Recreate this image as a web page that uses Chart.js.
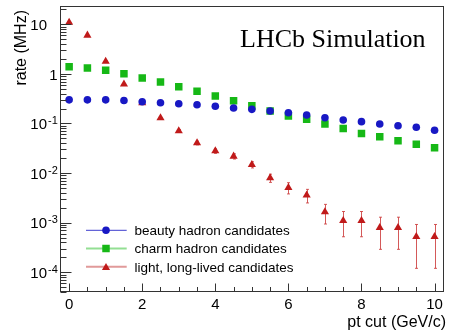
<!DOCTYPE html>
<html>
<head>
<meta charset="utf-8">
<script src="https://cdn.jsdelivr.net/npm/chart.js@4.4.1/dist/chart.umd.min.js"></script>
<style>
html, body { margin: 0; padding: 0; background: #fff; }
</style>
</head>
<body>
<canvas id="rateChart" width="449" height="334"></canvas>
<script>
// pt cut values (GeV/c)
const ptCut = [0, 0.5, 1, 1.5, 2, 2.5, 3, 3.5, 4, 4.5, 5, 5.5, 6, 6.5, 7, 7.5, 8, 8.5, 9, 9.5, 10];

// rates in MHz
const beauty = [0.30, 0.30, 0.30, 0.29, 0.275, 0.262, 0.25, 0.239, 0.222, 0.205, 0.193, 0.179, 0.165,
  0.148, 0.131, 0.118, 0.109, 0.098, 0.090, 0.084, 0.073];
const charm = [1.40, 1.32, 1.18, 1.01, 0.83, 0.69, 0.552, 0.445, 0.358, 0.288, 0.229, 0.179, 0.142,
  0.122, 0.098, 0.079, 0.063, 0.054, 0.045, 0.038, 0.0325];
const light = [10.9, 6.0, 1.79, 0.62, 0.26, 0.13, 0.0706, 0.0405, 0.0279, 0.0218, 0.0148, 0.0080, 0.0051,
  0.0036, 0.00164, 0.0011, 0.0011, 0.00079, 0.00079, 0.00052, 0.00052];
const lightErr = [0.057, 0.042, 0.023, 0.0136, 0.0088, 0.0062, 0.0046, 0.0035, 0.0029, 0.0026, 0.0021, 0.0015, 0.0013,
  0.0011, 0.0007, 0.00058, 0.00058, 0.0005, 0.0005, 0.0004, 0.0004];

const seriesNames = ['beauty hadron candidates', 'charm hadron candidates', 'light, long-lived candidates'];

const xTicks = [0, 2, 4, 6, 8, 10];
const xTickLabels = ['0', '2', '4', '6', '8', '10'];
const yTicks = [10, 1, 0.1, 0.01, 0.001, 0.0001];
const yTickLabels = ['10', '1', '10^-1', '10^-2', '10^-3', '10^-4'];

const xTitle = 'pt cut (GeV/c)';
const yTitle = 'rate (MHz)';
const stamp = 'LHCb Simulation';

const SANS = '"Liberation Sans", Arial, Helvetica, sans-serif';
const SERIF = '"Liberation Serif", "Times New Roman", serif';

const toPoints = vals => vals.map((v, i) => ({ x: ptCut[i], y: v }));

const legendLineColors = ['rgba(40,40,200,0.9)', 'rgba(120,215,120,0.8)', 'rgba(215,120,120,0.75)'];

// ROOT-like frame, ticks, labels, legend and error bars
const rootStyle = {
  id: 'rootStyle',
  beforeDatasetsDraw(chart) {
    const ctx = chart.ctx;
    const xs = chart.scales.x, ys = chart.scales.y;
    ctx.save();
    ctx.strokeStyle = 'rgba(205,60,60,0.85)';
    ctx.lineWidth = 1;
    light.forEach((v, i) => {
      const e = lightErr[i];
      const px = Math.round(xs.getPixelForValue(ptCut[i])) + 0.5;
      const top = ys.getPixelForValue(v + e);
      const bot = ys.getPixelForValue(Math.max(v - e, 1e-6));
      ctx.beginPath();
      ctx.moveTo(px, top);
      ctx.lineTo(px, bot);
      ctx.moveTo(px - 1.5, top);
      ctx.lineTo(px + 1.5, top);
      ctx.moveTo(px - 1.5, bot);
      ctx.lineTo(px + 1.5, bot);
      ctx.stroke();
    });
    ctx.restore();
  },
  afterDraw(chart) {
    const ctx = chart.ctx;
    const xs = chart.scales.x, ys = chart.scales.y;
    const a = chart.chartArea;
    const L = Math.round(a.left) + 0.5, R = Math.round(a.right) - 0.5;
    const T = Math.round(a.top) + 0.5, B = Math.round(a.bottom) - 0.5;
    ctx.save();

    // frame
    ctx.strokeStyle = '#333';
    ctx.lineWidth = 1;
    ctx.strokeRect(L, T, R - L, B - T);

    // x ticks (inside, pointing up)
    ctx.beginPath();
    for (let v = 0; v <= 10.001; v += 0.5) {
      const px = Math.round(xs.getPixelForValue(v)) + 0.5;
      const major = xTicks.includes(v);
      ctx.moveTo(px, B);
      ctx.lineTo(px, B - (major ? 8 : 4.5));
    }
    // y ticks (inside, pointing right)
    for (let d = -5; d <= 1; d++) {
      for (let m = 1; m <= 9; m++) {
        const v = m * Math.pow(10, d);
        if (v < ys.min || v > ys.max) continue;
        const py = Math.round(ys.getPixelForValue(v)) + 0.5;
        ctx.moveTo(L, py);
        ctx.lineTo(L + (m === 1 ? 11 : 6), py);
      }
    }
    ctx.stroke();

    // x tick labels
    ctx.fillStyle = '#000';
    ctx.font = '15px ' + SANS;
    ctx.textAlign = 'center';
    ctx.textBaseline = 'alphabetic';
    xTicks.forEach((v, i) => {
      ctx.fillText(xTickLabels[i], xs.getPixelForValue(v), 308.5);
    });

    // y tick labels with superscript exponents
    yTicks.forEach((v, i) => {
      const py = ys.getPixelForValue(v);
      const parts = yTickLabels[i].split('^');
      ctx.font = '15px ' + SANS;
      ctx.textAlign = 'right';
      if (parts[0] === '1') {
        ctx.fillText('1', 57.5, py + 5.6);
      } else {
        ctx.fillText(parts[0], 47, py + 5.6);
      }
      if (parts[1]) {
        ctx.font = '11px ' + SANS;
        ctx.textAlign = 'left';
        ctx.fillText(parts[1], 48, py + 0.8);
      }
    });

    // axis titles
    ctx.font = '16px ' + SANS;
    ctx.textAlign = 'right';
    ctx.fillText(xTitle, 446, 326.5);
    ctx.save();
    ctx.translate(25.5, 10);
    ctx.rotate(-Math.PI / 2);
    ctx.textAlign = 'right';
    ctx.fillText(yTitle, 0, 0);
    ctx.restore();

    // stamp
    ctx.font = '26px ' + SERIF;
    ctx.textAlign = 'left';
    ctx.fillText(stamp, 240, 46.7);

    // legend
    chart.data.datasets.forEach((ds, i) => {
      const y = 230.3 + i * 18.2;
      ctx.strokeStyle = legendLineColors[i];
      ctx.lineWidth = i === 0 ? 1 : 2;
      ctx.beginPath();
      ctx.moveTo(86, y);
      ctx.lineTo(126.7, y);
      ctx.stroke();
      ctx.fillStyle = ds.backgroundColor;
      Chart.helpers.drawPoint(ctx, {
        pointStyle: ds.pointStyle, rotation: 0, radius: ds.pointRadius, borderWidth: 0
      }, 106, ds.pointStyle === 'triangle' ? y + 1 : y);
      ctx.fillStyle = '#000';
      ctx.font = '13.5px ' + SANS;
      ctx.textAlign = 'left';
      ctx.fillText(seriesNames[i], 134.5, y + 4.8);
    });

    ctx.restore();
  }
};

new Chart(document.getElementById('rateChart'), {
  type: 'scatter',
  data: {
    datasets: [
      {
        label: seriesNames[0],
        data: toPoints(beauty),
        pointStyle: 'circle',
        pointRadius: 3.8,
        pointBorderWidth: 0,
        backgroundColor: '#1818c4',
        borderColor: '#1818c4'
      },
      {
        label: seriesNames[1],
        data: toPoints(charm),
        pointStyle: 'rect',
        pointRadius: 5.3,
        pointBorderWidth: 0,
        backgroundColor: '#16b816',
        borderColor: '#16b816'
      },
      {
        label: seriesNames[2],
        data: toPoints(light),
        pointStyle: 'triangle',
        pointRadius: 4.7,
        pointBorderWidth: 0,
        backgroundColor: '#c01a1a',
        borderColor: '#c01a1a'
      }
    ]
  },
  options: {
    responsive: false,
    animation: false,
    devicePixelRatio: 1,
    layout: { padding: { left: 60, top: 6, right: 2, bottom: 42 } },
    plugins: {
      legend: { display: false },
      tooltip: { enabled: false }
    },
    scales: {
      x: {
        type: 'linear',
        display: false,
        min: -0.25,
        max: 10.25
      },
      y: {
        type: 'logarithmic',
        display: false,
        min: 4e-5,
        max: 23.4
      }
    }
  },
  plugins: [rootStyle]
});
</script>
</body>
</html>
